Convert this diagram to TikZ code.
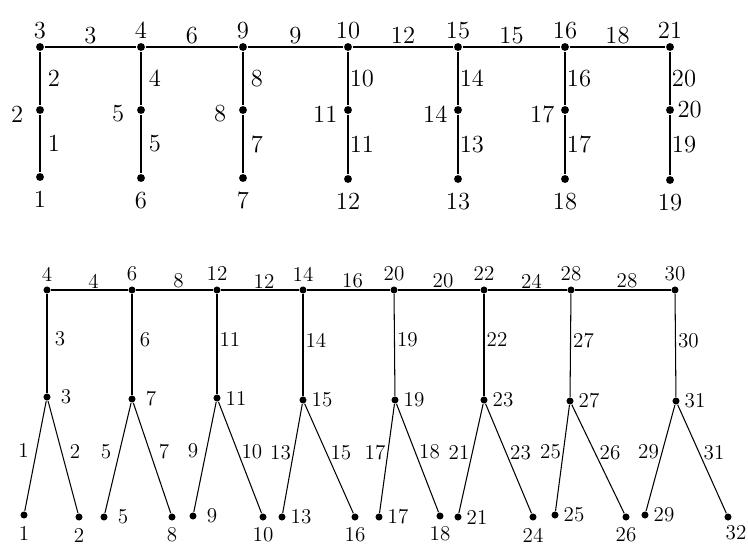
\documentclass[tikz,border=0pt]{standalone}
\usepackage{tikz}

\begin{document}
\begin{tikzpicture}[
		x=0.02cm, y=-0.02cm,
		dot/.style={circle, fill, inner sep=0pt, minimum size=4.5pt},
		lup/.style={label={[anchor=center, yshift=0.24cm]above:#1}},
		ldown/.style={label={[anchor=center, yshift=-0.36cm]below:#1}},
		lleft/.style={label={[anchor=center, xshift=-0.36cm, yshift=-0.08cm]left:#1}},
		lright/.style={label={[anchor=center, xshift=0.3cm]right:#1}},
		wa/.style={midway, yshift=0.23cm},
		wr/.style={midway, xshift=0.28cm},
		wab/.style={midway, xshift=0.08cm, yshift=0.18cm},
		wrb/.style={pos=0.45, xshift=0.26cm},
		wdl/.style={midway, xshift=-0.24cm, yshift=0.12cm},
		wdr/.style={midway, xshift=0.24cm, yshift=0.12cm}
		]
		
		\useasboundingbox (0,0) rectangle (748,544);
		
		\begin{scope}[font=\fontsize{14}{16}\selectfont, line width=0.9pt]
		\node[dot, lup=3] (t3) at (40,47) {};
		\node[dot, lup=4] (t4) at (141,47) {};
		\node[dot, lup=9] (t9) at (243,47) {};
		\node[dot, lup=10] (t10) at (348,47) {};
		\node[dot, lup=15] (t15) at (458,47) {};
		\node[dot, lup=16] (t16) at (565,47) {};
		\node[dot, lup=21] (t21) at (670,47) {};
		
		\node[dot, lleft=2] (t2) at (40,110) {};
		\node[dot, lleft=5] (t5) at (141,110) {};
		\node[dot, lleft=8] (t8) at (243,110) {};
		\node[dot, lleft=11] (t11) at (348,110) {};
		\node[dot, lleft=14] (t14) at (458,110) {};
		\node[dot, lleft=17] (t17) at (565,110) {};
		\node[dot, lright=20] (t20) at (670,110) {};
		
		\node[dot, ldown=1] (t1) at (40,177) {};
		\node[dot, ldown=6] (t6) at (141,178) {};
		\node[dot, ldown=7] (t7) at (243,178) {};
		\node[dot, ldown=12] (t12) at (348,179) {};
		\node[dot, ldown=13] (t13) at (458,179) {};
		\node[dot, ldown=18] (t18) at (565,179) {};
		\node[dot, ldown=19] (t19) at (670,180) {};
		
		\draw (t3) -- node[wa] {3} (t4) -- node[wa] {6} (t9) -- node[wa] {9} (t10)
			-- node[wa] {12} (t15) -- node[wa] {15} (t16) -- node[wa] {18} (t21);
		\draw (t3) -- node[wr] {2} (t2) -- node[wr] {1} (t1);
		\draw (t4) -- node[wr] {4} (t5) -- node[wr] {5} (t6);
		\draw (t9) -- node[wr] {8} (t8) -- node[wr] {7} (t7);
		\draw (t10) -- node[wr] {10} (t11) -- node[wr] {11} (t12);
		\draw (t15) -- node[wr] {14} (t14) -- node[wr] {13} (t13);
		\draw (t16) -- node[wr] {16} (t17) -- node[wr] {17} (t18);
		\draw (t21) -- node[wr] {20} (t20) -- node[wr] {19} (t19);
		\end{scope}
		
		\begin{scope}[font=\fontsize{12}{14}\selectfont, line width=0.6pt,
			dot/.append style={minimum size=4pt},
			ldown/.style={label={[anchor=center, inner sep=0.5pt, yshift=-0.28cm]below:#1}}]
		\node[dot, lup=4] (b4) at (47,290) {};
		\node[dot, lup=6] (b6) at (132,290) {};
		\node[dot, lup=12] (b12) at (217,290) {};
		\node[dot, lup=14] (b14) at (303,290) {};
		\node[dot, lup=20] (b20) at (394,290) {};
		\node[dot, lup=22] (b22) at (484,290) {};
		\node[dot, lup=28] (b28) at (571,290) {};
		\node[dot, lup=30] (b30) at (675,290) {};
		
		\node[dot, lright=3] (b3) at (47,397) {};
		\node[dot, lright=7] (b7) at (132,399) {};
		\node[dot, lright=11] (b11) at (217,398) {};
		\node[dot, lright=15] (b15) at (303,400) {};
		\node[dot, lright=19] (b19) at (395,400) {};
		\node[dot, lright=23] (b23) at (484,400) {};
		\node[dot, lright=27] (b27) at (570,401) {};
		\node[dot, lright=31] (b31) at (676,401) {};
		
		\node[dot, ldown=1] (b1) at (24,515) {};
		\node[dot, ldown=2] (b2) at (79,517) {};
		\node[dot, lright=5] (b5) at (104,517) {};
		\node[dot, ldown=8] (b8) at (172,517) {};
		\node[dot, lright=9] (b9) at (193,516) {};
		\node[dot, ldown=10] (b10) at (263,517) {};
		\node[dot, lright=13] (b13) at (282,517) {};
		\node[dot, ldown=16] (b16) at (355,517) {};
		\node[dot, lright=17] (b17) at (379,517) {};
		\node[dot, ldown=18] (b18) at (440,516) {};
		\node[dot, lright=21] (b21) at (458,517) {};
		\node[dot, ldown=24] (b24) at (533,517) {};
		\node[dot, lright=25] (b25) at (555,515) {};
		\node[dot, ldown=26] (b26) at (626,517) {};
		\node[dot, lright=29] (b29) at (645,515) {};
		\node[dot, label={[anchor=center, inner sep=0.5pt, xshift=0.16cm, yshift=-0.24cm]below:32}] (b32) at (728,517) {};
		
		\draw (b4) -- node[wab] {4} (b6) -- node[wab] {8} (b12) -- node[wab] {12} (b14)
			-- node[wab] {16} (b20) -- node[wab] {20} (b22) -- node[wab] {24} (b28) -- node[wab] {28} (b30);
		\draw (b4) -- node[wrb] {3} (b3);
		\draw (b6) -- node[wrb] {6} (b7);
		\draw (b12) -- node[wrb] {11} (b11);
		\draw (b14) -- node[wrb] {14} (b15);
		\draw (b20) -- node[wrb] {19} (b19);
		\draw (b22) -- node[wrb] {22} (b23);
		\draw (b28) -- node[wrb] {27} (b27);
		\draw (b30) -- node[wrb] {30} (b31);
		
		\draw (b1) -- node[wdl] {1} (b3) -- node[wdr] {2} (b2);
		\draw (b5) -- node[wdl] {5} (b7) -- node[wdr] {7} (b8);
		\draw (b9) -- node[wdl] {9} (b11) -- node[wdr] {10} (b10);
		\draw (b13) -- node[wdl] {13} (b15) -- node[wdr] {15} (b16);
		\draw (b17) -- node[wdl] {17} (b19) -- node[wdr] {18} (b18);
		\draw (b21) -- node[wdl] {21} (b23) -- node[wdr] {23} (b24);
		\draw (b25) -- node[wdl] {25} (b27) -- node[wdr] {26} (b26);
		\draw (b29) -- node[wdl] {29} (b31) -- node[wdr] {31} (b32);
		\end{scope}
		
	\end{tikzpicture}
\end{document}
